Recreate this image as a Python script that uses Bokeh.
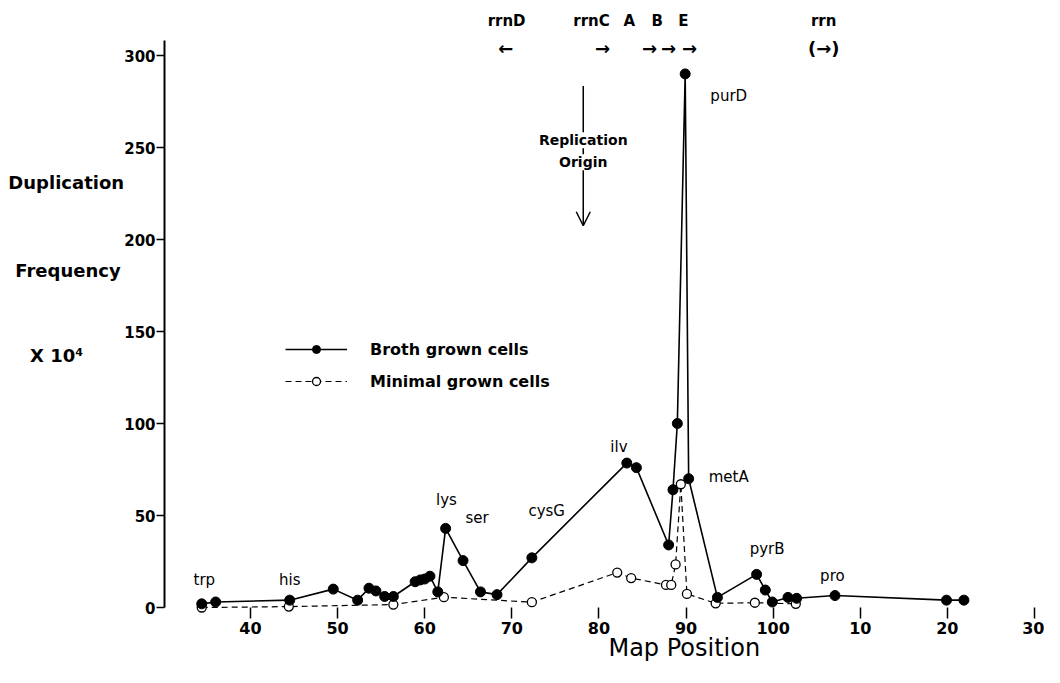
from bokeh.plotting import figure
from bokeh.models import (FixedTicker, Range1d, Label, Arrow, OpenHead, Legend,
                          LegendItem, ColumnDataSource)
from bokeh.core.properties import value
from bokeh.embed import file_html
from bokeh.resources import INLINE

# ---------------- data ----------------
broth_pos = [34.4, 36.0, 44.5, 49.5, 52.3, 53.6, 54.4, 55.4, 56.4, 58.9,
             59.5, 60.0, 60.6, 61.5, 62.4, 64.4, 66.4, 68.3, 72.3, 83.2,
             84.3, 88.0, 88.5, 89.0, 89.9, 90.3, 93.6, 98.1, 99.1, 99.9,
             101.7, 102.7, 107.1, 119.9, 121.9]
broth_freq = [2, 3, 4, 10, 4, 10.5, 9, 6, 6, 14,
              15, 15.5, 17, 8.5, 43, 25.5, 8.5, 7, 27, 78.5,
              76, 34, 64, 100, 290, 70, 5.5, 18, 9.5, 3,
              5.5, 5, 6.5, 4, 4]

minimal_pos = [34.4, 44.4, 56.4, 62.2, 72.3, 82.1, 83.7, 87.7, 88.3, 88.8,
               89.4, 90.1, 93.4, 97.9, 102.6]
minimal_freq = [0, 0.5, 1.6, 5.6, 2.9, 19, 16, 12.3, 12.3, 23.4,
                67, 7.4, 2.3, 2.6, 2.0]

gene_names = ["trp", "his", "lys", "ser", "cysG", "ilv", "purD", "metA", "pyrB", "pro"]
gene_pos = [34.7, 44.5, 62.5, 66.0, 74.0, 82.3, 94.9, 94.9, 99.3, 106.8]
gene_freq = [14.7, 15.2, 58.2, 48.4, 52.2, 87, 278, 71.2, 32, 17.4]

rrn_names = ["rrnD", "rrnC", "A", "B", "E", "rrn"]
rrn_pos = [69.4, 79.15, 83.5, 86.7, 89.7, 105.8]
rrn_level = [319] * 6
rrn_arrows = ["\u2190", "\u2192", "\u2192", "\u2192", "\u2192", "(\u2192)"]
rrn_arrow_pos = [69.3, 80.4, 85.8, 88.0, 90.4, 105.8]
rrn_arrow_level = [304] * 6

origin_pos = 78.2
origin_top = 283.5
origin_bottom = 207.5

x_ticks = [40, 50, 60, 70, 80, 90, 100, 110, 120, 130]
x_tick_labels = ["40", "50", "60", "70", "80", "90", "100", "10", "20", "30"]
y_ticks = [0, 50, 100, 150, 200, 250, 300]
y_axis_at = 30.13     # map position where the frequency axis stands
x_axis_at = -2.17     # frequency level where the map-position ticks hang

x_title = "Map Position"
x_title_at = (89.8, -22.0)

y_title_lines = ["Duplication", "Frequency", "X 10\u2074"]
y_title_x = [12.2, 13.0, 14.7]
y_title_y = [231, 183, 137]

FONT = "DejaVu Sans"

# ---------------- figure ----------------
p = figure(width=1044, height=667, output_backend="svg", toolbar_location=None,
           x_range=Range1d(11.30, 131.15), y_range=Range1d(-32.6, 329.9),
           min_border_left=0, min_border_right=0, min_border_top=0,
           min_border_bottom=0)
p.grid.visible = False
p.outline_line_color = None
p.background_fill_color = "white"

xa = p.xaxis[0]
xa.fixed_location = x_axis_at
xa.ticker = FixedTicker(ticks=x_ticks)
xa.major_label_overrides = {t: l for t, l in zip(x_ticks, x_tick_labels)}
xa.axis_line_color = None
xa.major_tick_in = 4
xa.major_tick_out = 7
xa.major_tick_line_width = 1.5
xa.major_tick_line_color = "black"
xa.minor_tick_line_color = None
xa.major_label_text_font = FONT
xa.major_label_text_font_size = "16px"
xa.major_label_text_font_style = "bold"
xa.major_label_text_color = "black"
xa.major_label_standoff = 3

ya = p.yaxis[0]
ya.fixed_location = y_axis_at
ya.ticker = FixedTicker(ticks=y_ticks)
ya.bounds = (0, 308)
ya.axis_line_width = 2
ya.axis_line_color = "black"
ya.major_tick_out = 8
ya.major_tick_in = 0
ya.major_tick_line_width = 1.5
ya.major_tick_line_color = "black"
ya.minor_tick_line_color = None
ya.major_label_standoff = 1
ya.major_label_text_font = FONT
ya.major_label_text_font_size = "15px"
ya.major_label_text_font_style = "bold"
ya.major_label_text_color = "black"

# ---------------- series ----------------
bsrc = ColumnDataSource(dict(x=broth_pos, y=broth_freq))
msrc = ColumnDataSource(dict(x=minimal_pos, y=minimal_freq))

ml = p.line("x", "y", source=msrc, line_color="black", line_width=1.2, line_dash="6 4")
bl = p.line("x", "y", source=bsrc, line_color="black", line_width=1.6)
ms = p.scatter("x", "y", source=msrc, size=9, marker="circle", fill_color="white",
               line_color="black", line_width=1.3)
bs = p.scatter("x", "y", source=bsrc, size=10, marker="circle", fill_color="black",
               line_color="black")

# gene labels
gsrc = ColumnDataSource(dict(x=gene_pos, y=gene_freq, t=gene_names))
p.text("x", "y", text="t", source=gsrc, text_font=value(FONT), text_font_size="15px",
       text_align="center", text_baseline="middle", text_color="black")

# rrn operons along the top
rsrc = ColumnDataSource(dict(x=rrn_pos, y=rrn_level, t=rrn_names))
p.text("x", "y", text="t", source=rsrc, text_font=value(FONT), text_font_size="15px",
       text_font_style="bold", text_align="center", text_baseline="middle",
       text_color="black")
asrc = ColumnDataSource(dict(x=rrn_arrow_pos, y=rrn_arrow_level, t=rrn_arrows))
p.text("x", "y", text="t", source=asrc, text_font=value(FONT), text_font_size="18px",
       text_font_style="bold", text_align="center", text_baseline="middle",
       text_color="black")

# replication origin arrow
p.add_layout(Arrow(end=OpenHead(size=14, line_width=1.5, line_color="black"),
                   x_start=origin_pos, y_start=origin_top, x_end=origin_pos,
                   y_end=origin_bottom, line_width=1.5, line_color="black"))
for txt, yy in [("Replication", 254), ("Origin", 242)]:
    p.add_layout(Label(x=origin_pos, y=yy, text=txt, text_font=FONT, text_font_size="14px",
                       text_font_style="bold", text_align="center", text_baseline="middle",
                       text_color="black", background_fill_color="white"))

# y-axis title (three horizontal lines to the left of the axis)
for txt, xx, yy in zip(y_title_lines, y_title_x, y_title_y):
    p.add_layout(Label(x=xx, y=yy, text=txt, text_font=FONT, text_font_size="18px",
                       text_font_style="bold", text_align="left", text_baseline="middle",
                       text_color="black"))

# x-axis title
p.add_layout(Label(x=x_title_at[0], y=x_title_at[1], text=x_title, text_font=FONT,
                   text_font_size="24px", text_align="center", text_baseline="middle",
                   text_color="black"))

legend = Legend(items=[LegendItem(label="Broth grown cells", renderers=[bl, bs]),
                       LegendItem(label="Minimal grown cells", renderers=[ml, ms])],
                location=(285, 276), orientation="vertical", border_line_color=None,
                background_fill_alpha=0, padding=0, margin=0, spacing=12,
                glyph_width=62, glyph_height=20, label_height=20, label_standoff=23,
                label_text_font=FONT, label_text_font_size="16px",
                label_text_font_style="bold", label_text_color="black")
p.add_layout(legend)

open("out.html", "w").write(file_html(p, INLINE))
